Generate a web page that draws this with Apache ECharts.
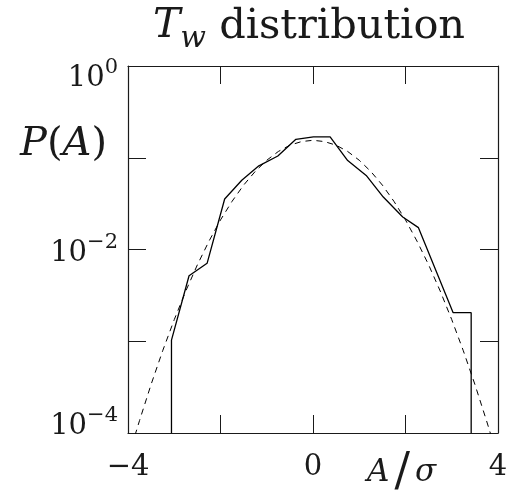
<!DOCTYPE html>
<html>
<head>
<meta charset="utf-8">
<script src="https://cdn.jsdelivr.net/npm/echarts@6/dist/echarts.min.js"></script>
<style>html,body{margin:0;padding:0;background:#fff}#c{width:510px;height:494px}</style>
</head>
<body>
<div id="c"></div>
<script>
// ---- data ----
const xTickValues = [-4, -2, 0, 2, 4];
const xTickLabels = ['\u22124', '', '0', '', '4'];
const yDecades = [0, -1, -2, -3, -4];
const yTickLabels = ['0', '', '\u22122', '', '\u22124']; // exponent of 10

// measured histogram P(A) (solid)
const histA = [-3.06, -3.06, -2.68, -2.29, -1.91, -1.54, -1.17, -0.76, -0.37, 0.01, 0.37, 0.75, 1.15, 1.52, 1.94, 2.28, 3.03, 3.42, 3.42];
const histP = [0.0001, 0.00103, 0.00517, 0.00707, 0.0355, 0.0568, 0.0817, 0.1045, 0.159, 0.169, 0.169, 0.0933, 0.0641, 0.0373, 0.0226, 0.0173, 0.00205, 0.00205, 0.0001];

// gaussian reference curve (dashed)
const fitA = [-3.85, -3.75, -3.5, -3.25, -3, -2.75, -2.5, -2.25, -2, -1.75, -1.5, -1.25, -1, -0.75, -0.5, -0.25, 0, 0.25, 0.5, 0.75, 1, 1.25, 1.5, 1.75, 2, 2.25, 2.5, 2.75, 3, 3.25, 3.5, 3.75, 3.85];
const fitP = [0.000094, 0.000137, 0.000339, 0.000788, 0.00172, 0.00353, 0.00681, 0.0123, 0.021, 0.0335, 0.0503, 0.0709, 0.0939, 0.117, 0.137, 0.150, 0.155, 0.150, 0.137, 0.117, 0.0939, 0.0709, 0.0503, 0.0335, 0.021, 0.0123, 0.00681, 0.00353, 0.00172, 0.000788, 0.000339, 0.000137, 0.000094];

const titleParts = ['T', 'w', ' distribution'];
const yName = ['P', '(', 'A', ')'];
const xName = ['A', '/', '\u03c3'];

// ---- chart ----
const FONT = 'DejaVu Serif';
const INK = '#1a1a1a';
const chart = echarts.init(document.getElementById('c'), null, {renderer: 'canvas'});

const tickStyle = {show: true, inside: true, length: 18, lineStyle: {color: INK, width: 1}};
const lineStyle = {show: true, onZero: false, lineStyle: {color: INK, width: 1.2}};

function yLabel(v) {
  const e = Math.round(Math.log10(v));
  const i = yDecades.indexOf(e);
  if (i < 0 || !yTickLabels[i]) return '';
  const k = e === yDecades[0] ? 'T' : (e === yDecades[yDecades.length - 1] ? 'B' : 'M');
  return '{b' + k + '|10}{s' + k + '|' + yTickLabels[i] + '}';
}
function xLabel(v) {
  const i = xTickValues.indexOf(Math.round(v * 1000) / 1000);
  return i < 0 ? '' : xTickLabels[i];
}
const bBase = {fontFamily: FONT, fontSize: 29, lineHeight: 60, color: INK, verticalAlign: 'top', fontWeight: 'normal'};
const sBase = {fontFamily: FONT, fontSize: 21, lineHeight: 60, color: INK, verticalAlign: 'top', fontWeight: 'normal'};

const option = {
  animation: false,
  backgroundColor: '#fff',
  title: {
    text: '{T|' + titleParts[0] + '}{w|' + titleParts[1] + '}{d|' + titleParts[2] + '}',
    left: 153, top: 6, padding: 0,
    textStyle: {
      fontWeight: 'normal',
      rich: {
        T: {fontFamily: FONT, fontStyle: 'italic', fontWeight: 'normal', fontSize: 41, lineHeight: 41, color: INK, verticalAlign: 'top', padding: [0, 0, 0, 0]},
        w: {fontFamily: FONT, fontStyle: 'italic', fontWeight: 'normal', fontSize: 30, lineHeight: 30, color: INK, verticalAlign: 'top', padding: [18, 0, 0, 0]},
        d: {fontFamily: FONT, fontWeight: 'normal', fontSize: 41.5, lineHeight: 41, color: INK, verticalAlign: 'top', padding: [0, 0, 0, 0]}
      }
    }
  },
  grid: {left: 128, top: 66, right: 12, bottom: 61, containLabel: false, outerBoundsMode: 'none',
         show: false},
  xAxis: [
    {type: 'value', min: -4, max: 4, interval: 2, position: 'bottom',
     axisLine: lineStyle, axisTick: tickStyle, splitLine: {show: false},
     axisLabel: {formatter: xLabel, margin: 20, fontFamily: FONT, fontSize: 29, color: INK, showMinLabel: true, showMaxLabel: true}},
    {type: 'value', min: -4, max: 4, interval: 2, position: 'top',
     axisLine: lineStyle, axisTick: tickStyle, splitLine: {show: false}, axisLabel: {show: false}}
  ],
  yAxis: [
    {type: 'log', logBase: 10, min: 0.0001, max: 1, position: 'left',
     axisLine: lineStyle, axisTick: tickStyle, splitLine: {show: false}, minorTick: {show: false},
     axisLabel: {formatter: yLabel, margin: 10, showMinLabel: true, showMaxLabel: true,
       rich: {
         bT: Object.assign({}, bBase, {padding: [27.5, 0, 0, 0]}),
         sT: Object.assign({}, sBase, {padding: [21, 0, 0, 0]}),
         bM: Object.assign({}, bBase, {padding: [19, 0, 0, 0]}),
         sM: Object.assign({}, sBase, {padding: [12.5, 0, 0, 0]}),
         bB: Object.assign({}, bBase, {padding: [9, 0, 0, 0]}),
         sB: Object.assign({}, sBase, {padding: [2.5, 0, 0, 0]})
       }}},
    {type: 'log', logBase: 10, min: 0.0001, max: 1, position: 'right',
     axisLine: lineStyle, axisTick: tickStyle, splitLine: {show: false}, axisLabel: {show: false}}
  ],
  series: [
    {type: 'line', name: 'histogram', xAxisIndex: 0, yAxisIndex: 0,
     data: histA.map((a, i) => [a, histP[i]]),
     showSymbol: false, symbol: 'none', clip: true,
     lineStyle: {color: '#000', width: 1.3, type: 'solid'}},
    {type: 'line', name: 'gaussian', xAxisIndex: 0, yAxisIndex: 0,
     data: fitA.map((a, i) => [a, fitP[i]]),
     showSymbol: false, symbol: 'none', clip: true, smooth: false,
     lineStyle: {color: '#000', width: 1, type: [6, 5]}}
  ],
  graphic: [
    {type: 'text', left: 20, top: 125,
     style: {text: '{i|' + yName[0] + '}{r|' + yName[1] + '}{i|' + yName[2] + '}{r|' + yName[3] + '}',
       rich: {
         i: {fontFamily: FONT, fontStyle: 'italic', fontSize: 40, lineHeight: 42, fill: INK, color: INK},
         r: {fontFamily: FONT, fontSize: 40, lineHeight: 42, fill: INK, color: INK}
       }}},
    {type: 'text', left: 362, top: 450,
     style: {text: '{i|' + xName[0] + '}{s|' + xName[1] + '}{i|' + xName[2] + '}',
       rich: {
         i: {fontFamily: FONT, fontStyle: 'italic', fontSize: 31, lineHeight: 40, fill: INK, color: INK, padding: [0, 5, 0, 5]},
         s: {fontFamily: FONT, fontSize: 46, lineHeight: 40, fill: INK, color: INK}
       }}}
  ]
};
chart.setOption(option);
</script>
</body>
</html>
